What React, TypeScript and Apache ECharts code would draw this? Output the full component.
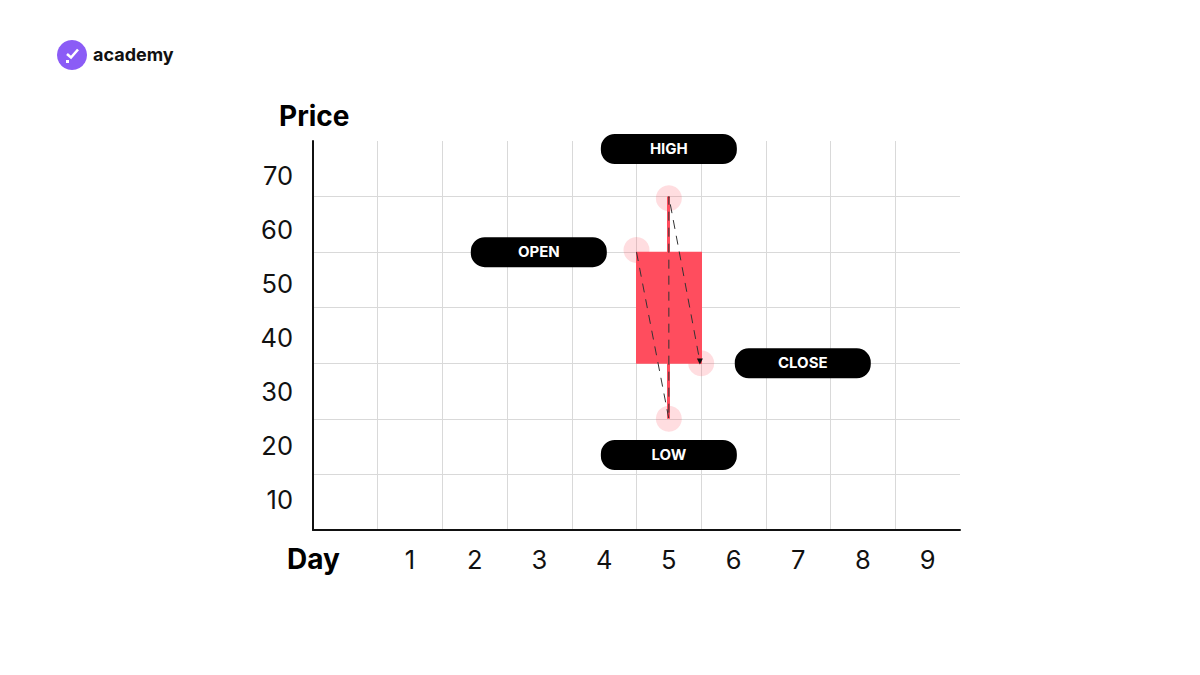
import React, { useEffect, useRef } from "react";
import * as echarts from "echarts";

const dayLabels = ["", "1", "2", "3", "4", "5", "6", "7", "8", "9"];
const priceLabels = [10, 20, 30, 40, 50, 60, 70];
const candleDay = "5";
const candle = [49.8, 30.2, 20, 60]; // open, close, low, high on the grid scale
const markerPoints = [
  [5, 50.4],
  [5.5, 59.7],
  [6, 30],
  [5.5, 20],
];
const tracePath = [
  [5, 50],
  [5.5, 20],
  [5.5, 60],
  [5.98, 30.3],
];
const pillNames = ["HIGH", "OPEN", "CLOSE", "LOW"];
const pillX = [5.5, 3.49, 7.57, 5.5];
const pillY = [68.56, 50, 30, 13.5];

const FONT = "Inter";
const RED = "#FF4D5E";

export default function App() {
  const ref = useRef<HTMLDivElement>(null);
  useEffect(() => {
    const chart = echarts.init(ref.current!, undefined, { renderer: "svg" });
    chart.setOption({
      animation: false,
      backgroundColor: "#ffffff",
      textStyle: { fontFamily: FONT },
      grid: { left: 313, top: 141, width: 647, height: 389, containLabel: false },
      xAxis: [
        {
          type: "category",
          data: dayLabels,
          boundaryGap: true,
          axisLine: { onZero: false, lineStyle: { color: "#111111", width: 2 } },
          axisTick: { show: false },
          axisLabel: { interval: 0, color: "#111111", fontSize: 25.5, fontFamily: FONT, margin: 16 },
          splitLine: { show: true, interval: 0, showMinLine: false, showMaxLine: false, lineStyle: { color: "#D9D9D9", width: 1 } },
        },
        { type: "value", min: 0, max: 10, show: false, splitLine: { show: false } },
      ],
      yAxis: [
        {
          type: "value",
          min: 0,
          max: 70,
          interval: 10,
          axisLine: { show: true, lineStyle: { color: "#111111", width: 2 } },
          axisTick: { show: false },
          axisLabel: { show: false },
          splitLine: { show: true, showMinLine: false, showMaxLine: false, lineStyle: { color: "#D9D9D9", width: 1 } },
        },
        {
          type: "value",
          position: "left",
          min: 4.44,
          max: 76.48,
          axisLine: { show: false },
          axisTick: { show: false },
          splitLine: { show: false },
          axisLabel: { customValues: priceLabels, color: "#111111", fontSize: 25.5, fontFamily: FONT, margin: 20 },
        },
      ],
      series: [
        {
          type: "scatter",
          xAxisIndex: 1,
          yAxisIndex: 0,
          z: 1,
          symbol: "circle",
          symbolSize: 26,
          silent: true,
          clip: false,
          itemStyle: { color: "rgba(255,77,94,0.24)" },
          data: markerPoints,
        },
        {
          type: "candlestick",
          xAxisIndex: 0,
          yAxisIndex: 0,
          z: 2,
          barWidth: 63,
          itemStyle: { color: RED, color0: RED, borderColor: RED, borderColor0: RED, borderWidth: 3 },
          data: dayLabels.map((d) => (d === candleDay ? candle : ["-", "-", "-", "-"])),
        },
        {
          type: "line",
          xAxisIndex: 1,
          yAxisIndex: 0,
          z: 3,
          silent: true,
          lineStyle: { color: "#333333", width: 1, type: [9, 7] },
          itemStyle: { color: "#111111" },
          data: tracePath.map((p, i) => ({
            value: p,
            symbol: i === tracePath.length - 1 ? "triangle" : "none",
            symbolSize: 6,
            symbolRotate: 180,
          })),
        },
        {
          type: "custom",
          xAxisIndex: 1,
          yAxisIndex: 0,
          z: 4,
          clip: false,
          silent: true,
          data: pillNames.map((n, i) => [pillX[i], pillY[i], n]),
          renderItem: (_p: any, api: any) => {
            const c = api.coord([api.value(0), api.value(1)]);
            const w = 136;
            const h = 30;
            return {
              type: "group",
              children: [
                { type: "rect", shape: { x: c[0] - w / 2, y: c[1] - h / 2, width: w, height: h, r: 14 }, style: { fill: "#000000" } },
                {
                  type: "text",
                  style: {
                    x: c[0],
                    y: c[1] - 0.5,
                    text: String(api.value(2)),
                    fill: "#ffffff",
                    font: `700 15px ${FONT}`,
                    align: "center",
                    verticalAlign: "middle",
                  },
                },
              ],
            };
          },
        },
      ],
      graphic: [
        { type: "text", x: 279, y: 116, style: { text: "Price", fill: "#000000", font: `700 28px ${FONT}`, verticalAlign: "middle" } },
        { type: "text", x: 287, y: 559, style: { text: "Day", fill: "#000000", font: `700 28px ${FONT}`, verticalAlign: "middle" } },
        { type: "circle", shape: { cx: 72, cy: 55, r: 15 }, style: { fill: "#8B5CF6" } },
        { type: "polyline", shape: { points: [[67, 54], [71, 57.5], [78, 49.5]] }, style: { fill: "none", stroke: "#ffffff", lineWidth: 2.6 } },
        { type: "rect", shape: { x: 66, y: 60, width: 3, height: 3 }, style: { fill: "#ffffff" } },
        { type: "text", x: 93, y: 54, style: { text: "academy", fill: "#111111", font: `700 18px ${FONT}`, verticalAlign: "middle" } },
      ],
    });
    return () => chart.dispose();
  }, []);
  return <div ref={ref} style={{ position: "absolute", left: 0, top: 0, width: 1200, height: 675 }} />;
}
